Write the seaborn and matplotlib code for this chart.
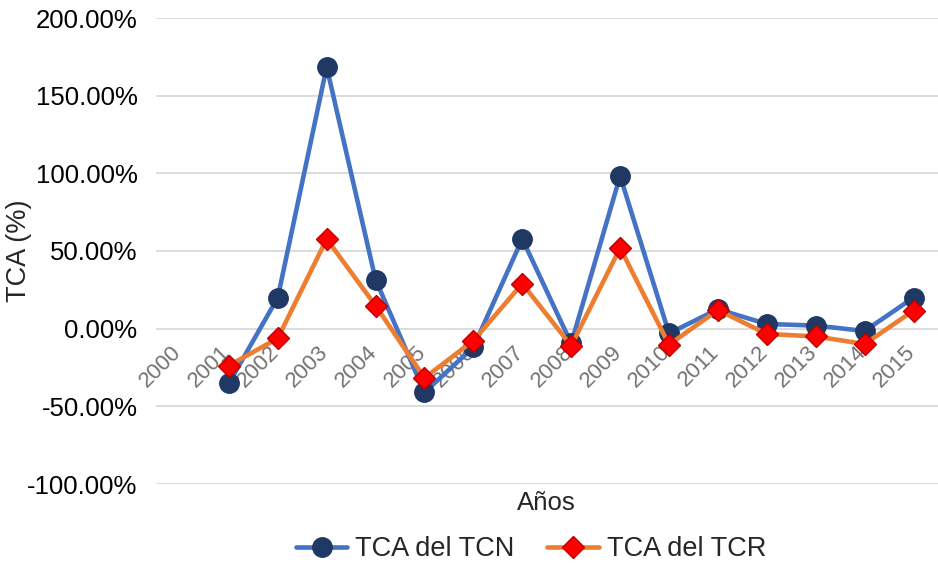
import numpy as np
import pandas as pd
import matplotlib
matplotlib.use("Agg")
import matplotlib.pyplot as plt
from matplotlib import transforms
import seaborn as sns

# ---- data (percent) ----
years = [str(y) for y in range(2000, 2016)]
tca_tcn = [np.nan, -35.2, 20.0, 168.5, 31.5, -41.0, -12.0, 57.8, -9.5, 98.3,
           -3.0, 12.5, 3.0, 2.0, -1.5, 20.0]
tca_tcr = [np.nan, -23.8, -6.2, 57.7, 14.8, -31.7, -7.7, 29.0, -11.0, 52.0,
           -10.3, 12.0, -3.4, -5.0, -9.9, 11.6]
y_ticks = [-100, -50, 0, 50, 100, 150, 200]
series_names = ["TCA del TCN", "TCA del TCR"]

df = pd.DataFrame({"pos": np.arange(len(years)), "year": years,
                   series_names[0]: tca_tcn, series_names[1]: tca_tcr})

sns.set_theme(style="white")
plt.rcParams["font.family"] = ["Liberation Sans", "DejaVu Sans"]

W, H = 938, 569
fig = plt.figure(figsize=(W / 100, H / 100), dpi=100)
ax = fig.add_axes([155.5 / W, 1 - 484 / H, (W - 155.5) / W, 466 / H])

sns.lineplot(data=df, x="pos", y=series_names[0], ax=ax, color="#4472C4", lw=3.3,
             marker="o", markersize=14, markerfacecolor="#203864",
             markeredgecolor="#203864", markeredgewidth=1, label=series_names[0])
sns.lineplot(data=df, x="pos", y=series_names[1], ax=ax, color="#ED7D31", lw=3.3,
             marker="D", markersize=11, markerfacecolor="#FF0000",
             markeredgecolor="#C00000", markeredgewidth=1, label=series_names[1])

ax.set_xlim(-0.5, len(years) - 0.5)
ax.set_ylim(-100, 200)
ax.set_yticks(y_ticks)
ax.set_yticklabels([f"{v:.2f}%" for v in y_ticks])
ax.set_xticks(np.arange(len(years)))
ax.set_xticklabels(years)

ax.spines["bottom"].set_position(("data", 0))
for s in ax.spines.values():
    s.set_visible(False)

ax.grid(axis="y", color="#D9D9D9", lw=1.3)
ax.grid(axis="x", visible=False)
ax.set_axisbelow(True)

ax.tick_params(axis="y", length=0, pad=13, labelsize=18.5, labelcolor="black")
ax.tick_params(axis="x", length=0, pad=9.5, labelsize=16, labelcolor="#767171")
offset = transforms.ScaledTranslation(-9 / 100, 0, fig.dpi_scale_trans)
for lbl in ax.get_xticklabels():
    lbl.set_rotation(45)
    lbl.set_ha("right")
    lbl.set_va("top")
    lbl.set_rotation_mode("anchor")
    lbl.set_transform(lbl.get_transform() + offset)

ax.set_xlabel("")
ax.set_ylabel("TCA (%)", fontsize=19.5, va="center")
ax.yaxis.set_label_coords((19 - 155.5) / (W - 155.5), 0.5)

fig.text(546 / W, 1 - 503 / H, "Años", ha="center", va="center", fontsize=18.5)

handles, labels = ax.get_legend_handles_labels()
if ax.get_legend() is not None:
    ax.get_legend().remove()
fig.legend(handles, labels, loc="center", bbox_to_anchor=(531 / W, 1 - 549 / H),
           ncol=2, frameon=False, fontsize=19.5, handlelength=1.9,
           handletextpad=0.3, columnspacing=1.2, borderaxespad=0, borderpad=0)

fig.savefig("out.png", dpi=100)
